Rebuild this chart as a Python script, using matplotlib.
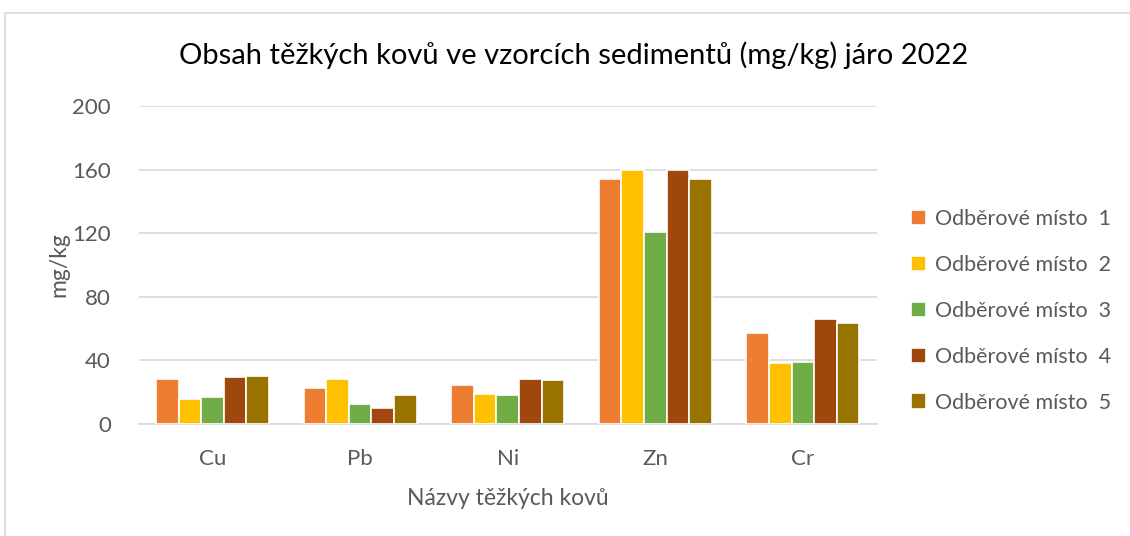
import numpy as np
import matplotlib.pyplot as plt
from matplotlib.patches import Rectangle

plt.rcParams['font.family'] = ['Lato', 'DejaVu Sans']

# data (mg/kg)
kovy = ["Cu", "Pb", "Ni", "Zn", "Cr"]
misto_1 = [28.6, 22.9, 24.6, 154, 57.1]
misto_2 = [15.7, 28.6, 18.9, 160, 38.6]
misto_3 = [17.2, 12.6, 18.1, 120.5, 39.0]
misto_4 = [29.8, 10.1, 28.6, 160, 66.0]
misto_5 = [30.2, 18.5, 27.7, 154, 63.6]
nazvy = ["Odběrové místo  1", "Odběrové místo  2", "Odběrové místo  3",
         "Odběrové místo  4", "Odběrové místo  5"]
barvy = ["#ED7D31", "#FFC000", "#70AD47", "#9E480E", "#997300"]

serie = [misto_1, misto_2, misto_3, misto_4, misto_5]
text_col = "#595959"

fig = plt.figure(figsize=(11.3, 5.36), dpi=100)
ax = fig.add_axes([0.1227, 0.209, 0.6531, 0.593])

# chart border
fig.patches.append(Rectangle((5 / 1130, -0.1), 1.2, 1 - 13 / 536 + 0.1,
                             transform=fig.transFigure, fill=False,
                             edgecolor="#D9D9D9", linewidth=1.2))

x = np.arange(len(kovy))
w = 0.153
for i, (vals, name, c) in enumerate(zip(serie, nazvy, barvy)):
    ax.bar(x + (i - 2) * w, vals, width=w, color=c, edgecolor="white",
           linewidth=1.2, label=name, zorder=3)

ax.set_xlim(-0.5, len(kovy) - 0.5)
ax.set_ylim(0, 200)
ax.set_yticks([0, 40, 80, 120, 160, 200])
ax.set_xticks(x)
ax.set_xticklabels(kovy)
ax.grid(axis="y", color="#D9D9D9", linewidth=1.2, zorder=0)
for s in ["top", "right", "left"]:
    ax.spines[s].set_visible(False)
ax.spines["bottom"].set_color("#D9D9D9")
ax.spines["bottom"].set_linewidth(1.2)
ax.tick_params(length=0, colors=text_col, labelsize=16)
ax.tick_params(axis="y", pad=20)
ax.tick_params(axis="x", pad=18)

ax.set_ylabel("mg/kg", color=text_col, fontsize=16.5, labelpad=2)
ax.set_xlabel("Názvy těžkých kovů", color=text_col, fontsize=16.5, labelpad=14)
fig.text(0.508, 0.897, "Obsah těžkých kovů ve vzorcích sedimentů (mg/kg) járo 2022",
         ha="center", va="center", fontsize=21, color="black")

leg = ax.legend(loc="center left", bbox_to_anchor=(0.789, 0.42),
                bbox_transform=fig.transFigure, frameon=False, fontsize=15.5,
                handlelength=0.7, handleheight=0.7, handletextpad=0.4,
                labelspacing=1.2)
for t in leg.get_texts():
    t.set_color(text_col)

fig.savefig("out.png", dpi=100)
